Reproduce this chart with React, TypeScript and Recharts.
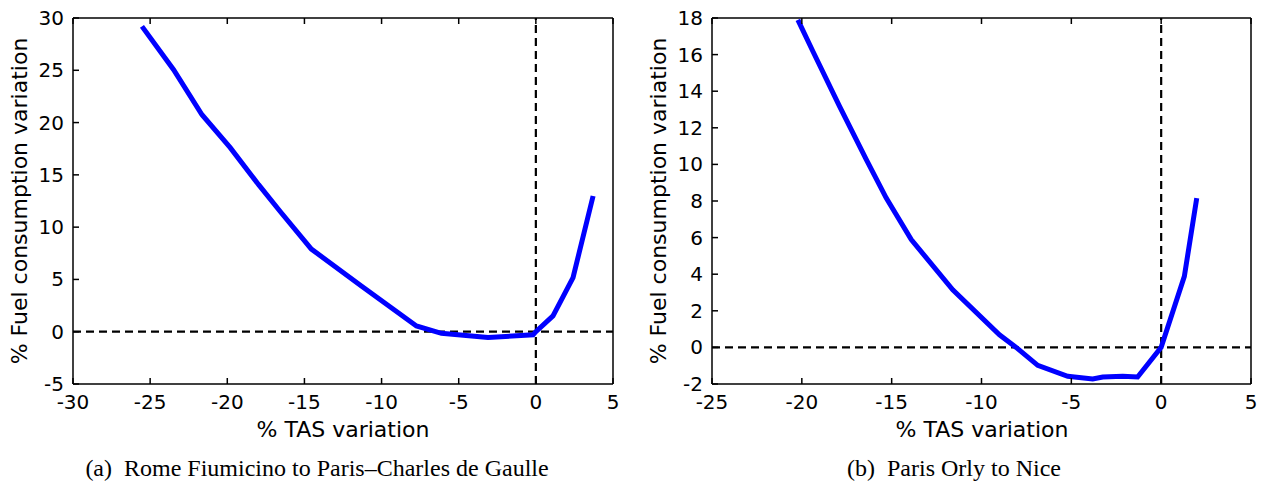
import React from 'react';
import { LineChart, Line, XAxis, YAxis, ReferenceLine } from 'recharts';

// (a) Rome Fiumicino -> Paris CDG
const romeTas = [-25.53, -23.48, -21.64, -19.81, -17.97, -16.57, -14.55, -11.31, -7.74, -6.12, -3.1, -0.18, 0, 1.11, 2.41, 3.71];
const romeFuel = [29.2, 25.06, 20.75, 17.6, 14.06, 11.5, 7.9, 4.38, 0.55, -0.15, -0.56, -0.3, 0, 1.51, 5.18, 12.98];

// (b) Paris Orly -> Nice
const orlyTas = [-20.22, -19.38, -17.9, -16.41, -15.3, -13.91, -11.6, -9.0, -8.07, -6.87, -5.2, -3.81, -3.25, -2.14, -1.31, 0, 1.29, 1.98];
const orlyFuel = [17.9, 16.17, 13.17, 10.26, 8.16, 5.89, 3.15, 0.69, 0, -0.98, -1.58, -1.73, -1.62, -1.58, -1.62, 0, 3.88, 8.16];

const romeXTicks = [-30, -25, -20, -15, -10, -5, 0, 5];
const romeYTicks = [-5, 0, 5, 10, 15, 20, 25, 30];
const orlyXTicks = [-25, -20, -15, -10, -5, 0, 5];
const orlyYTicks = [-2, 0, 2, 4, 6, 8, 10, 12, 14, 16, 18];

const SANS = 'DejaVu Sans';
const SERIF = 'Liberation Serif';

// matlab-style ticks: small marks pointing into the plot box
const BottomTick = ({ x, y, payload }: any) => (
  <g>
    <line x1={x} y1={y} x2={x} y2={y - 6} stroke="#000" strokeWidth={1.5} />
    <text x={x} y={y + 25} textAnchor="middle" fontSize={20} fontFamily={SANS} fill="#000">
      {payload.value}
    </text>
  </g>
);

const LeftTick = ({ x, y, payload }: any) => (
  <g>
    <line x1={x} y1={y} x2={x + 6} y2={y} stroke="#000" strokeWidth={1.5} />
    <text x={x - 9} y={y + 7} textAnchor="end" fontSize={20} fontFamily={SANS} fill="#000">
      {payload.value}
    </text>
  </g>
);

const TopTick = ({ x, y }: any) => <line x1={x} y1={y} x2={x} y2={y + 6} stroke="#000" strokeWidth={1.5} />;
const RightTick = ({ x, y }: any) => <line x1={x} y1={y} x2={x - 6} y2={y} stroke="#000" strokeWidth={1.5} />;

function Panel({ tas, fuel, xTicks, yTicks, left, width, yAxisWidth, rightMargin }: any) {
  const data = tas.map((t: number, i: number) => ({ tas: t, fuel: fuel[i] }));
  const xDomain = [xTicks[0], xTicks[xTicks.length - 1]];
  const yDomain = [yTicks[0], yTicks[yTicks.length - 1]];
  const axisLine = { stroke: '#000', strokeWidth: 1.5 };
  return (
    <div style={{ position: 'absolute', left, top: 0 }}>
      <LineChart width={width} height={483} data={data} margin={{ top: 17, right: rightMargin - 1, bottom: 69, left: 0 }}>
        <XAxis xAxisId="b" dataKey="tas" type="number" domain={xDomain} ticks={xTicks} interval={0}
          height={30} tickSize={0} tickMargin={0} tickLine={false} axisLine={axisLine} tick={BottomTick} />
        <XAxis xAxisId="t" orientation="top" dataKey="tas" type="number" domain={xDomain} ticks={xTicks} interval={0}
          height={1} tickSize={0} tickMargin={0} tickLine={false} axisLine={axisLine} tick={TopTick} />
        <YAxis yAxisId="l" type="number" domain={yDomain} ticks={yTicks} interval={0}
          width={yAxisWidth} tickSize={0} tickMargin={0} tickLine={false} axisLine={axisLine} tick={LeftTick} />
        <YAxis yAxisId="r" orientation="right" type="number" domain={yDomain} ticks={yTicks} interval={0}
          width={1} tickSize={0} tickMargin={0} tickLine={false} axisLine={axisLine} tick={RightTick} />
        <ReferenceLine xAxisId="b" yAxisId="l" y={0} stroke="#000" strokeWidth={2.2} strokeDasharray="8 5" />
        <ReferenceLine xAxisId="b" yAxisId="l" x={0} stroke="#000" strokeWidth={2.2} strokeDasharray="8 5" />
        <Line xAxisId="b" yAxisId="l" type="linear" dataKey="fuel" stroke="#0000ff" strokeWidth={5}
          dot={false} isAnimationActive={false} />
      </LineChart>
    </div>
  );
}

export default function App() {
  return (
    <div style={{ position: 'absolute', left: 0, top: 0, width: 1267, height: 483, background: '#fff' }}>
      <Panel tas={romeTas} fuel={romeFuel} xTicks={romeXTicks} yTicks={romeYTicks} left={0} width={640} yAxisWidth={73} rightMargin={27} />
      <Panel tas={orlyTas} fuel={orlyFuel} xTicks={orlyXTicks} yTicks={orlyYTicks} left={640} width={627} yAxisWidth={72} rightMargin={16} />
      <svg width={1267} height={483} style={{ position: 'absolute', left: 0, top: 0, pointerEvents: 'none' }}>
        <text x={343} y={437} textAnchor="middle" fontSize={22} fontFamily={SANS}>% TAS variation</text>
        <text x={982} y={437} textAnchor="middle" fontSize={22} fontFamily={SANS}>% TAS variation</text>
        <text transform="translate(27,201) rotate(-90)" textAnchor="middle" fontSize={22} fontFamily={SANS}>% Fuel consumption variation</text>
        <text transform="translate(666,201) rotate(-90)" textAnchor="middle" fontSize={22} fontFamily={SANS}>% Fuel consumption variation</text>
        <text x={317} y={476} textAnchor="middle" fontSize={24} fontFamily={SERIF} xmlSpace="preserve">(a)  Rome Fiumicino to Paris–Charles de Gaulle</text>
        <text x={954} y={476} textAnchor="middle" fontSize={24} fontFamily={SERIF} xmlSpace="preserve">(b)  Paris Orly to Nice</text>
      </svg>
    </div>
  );
}
